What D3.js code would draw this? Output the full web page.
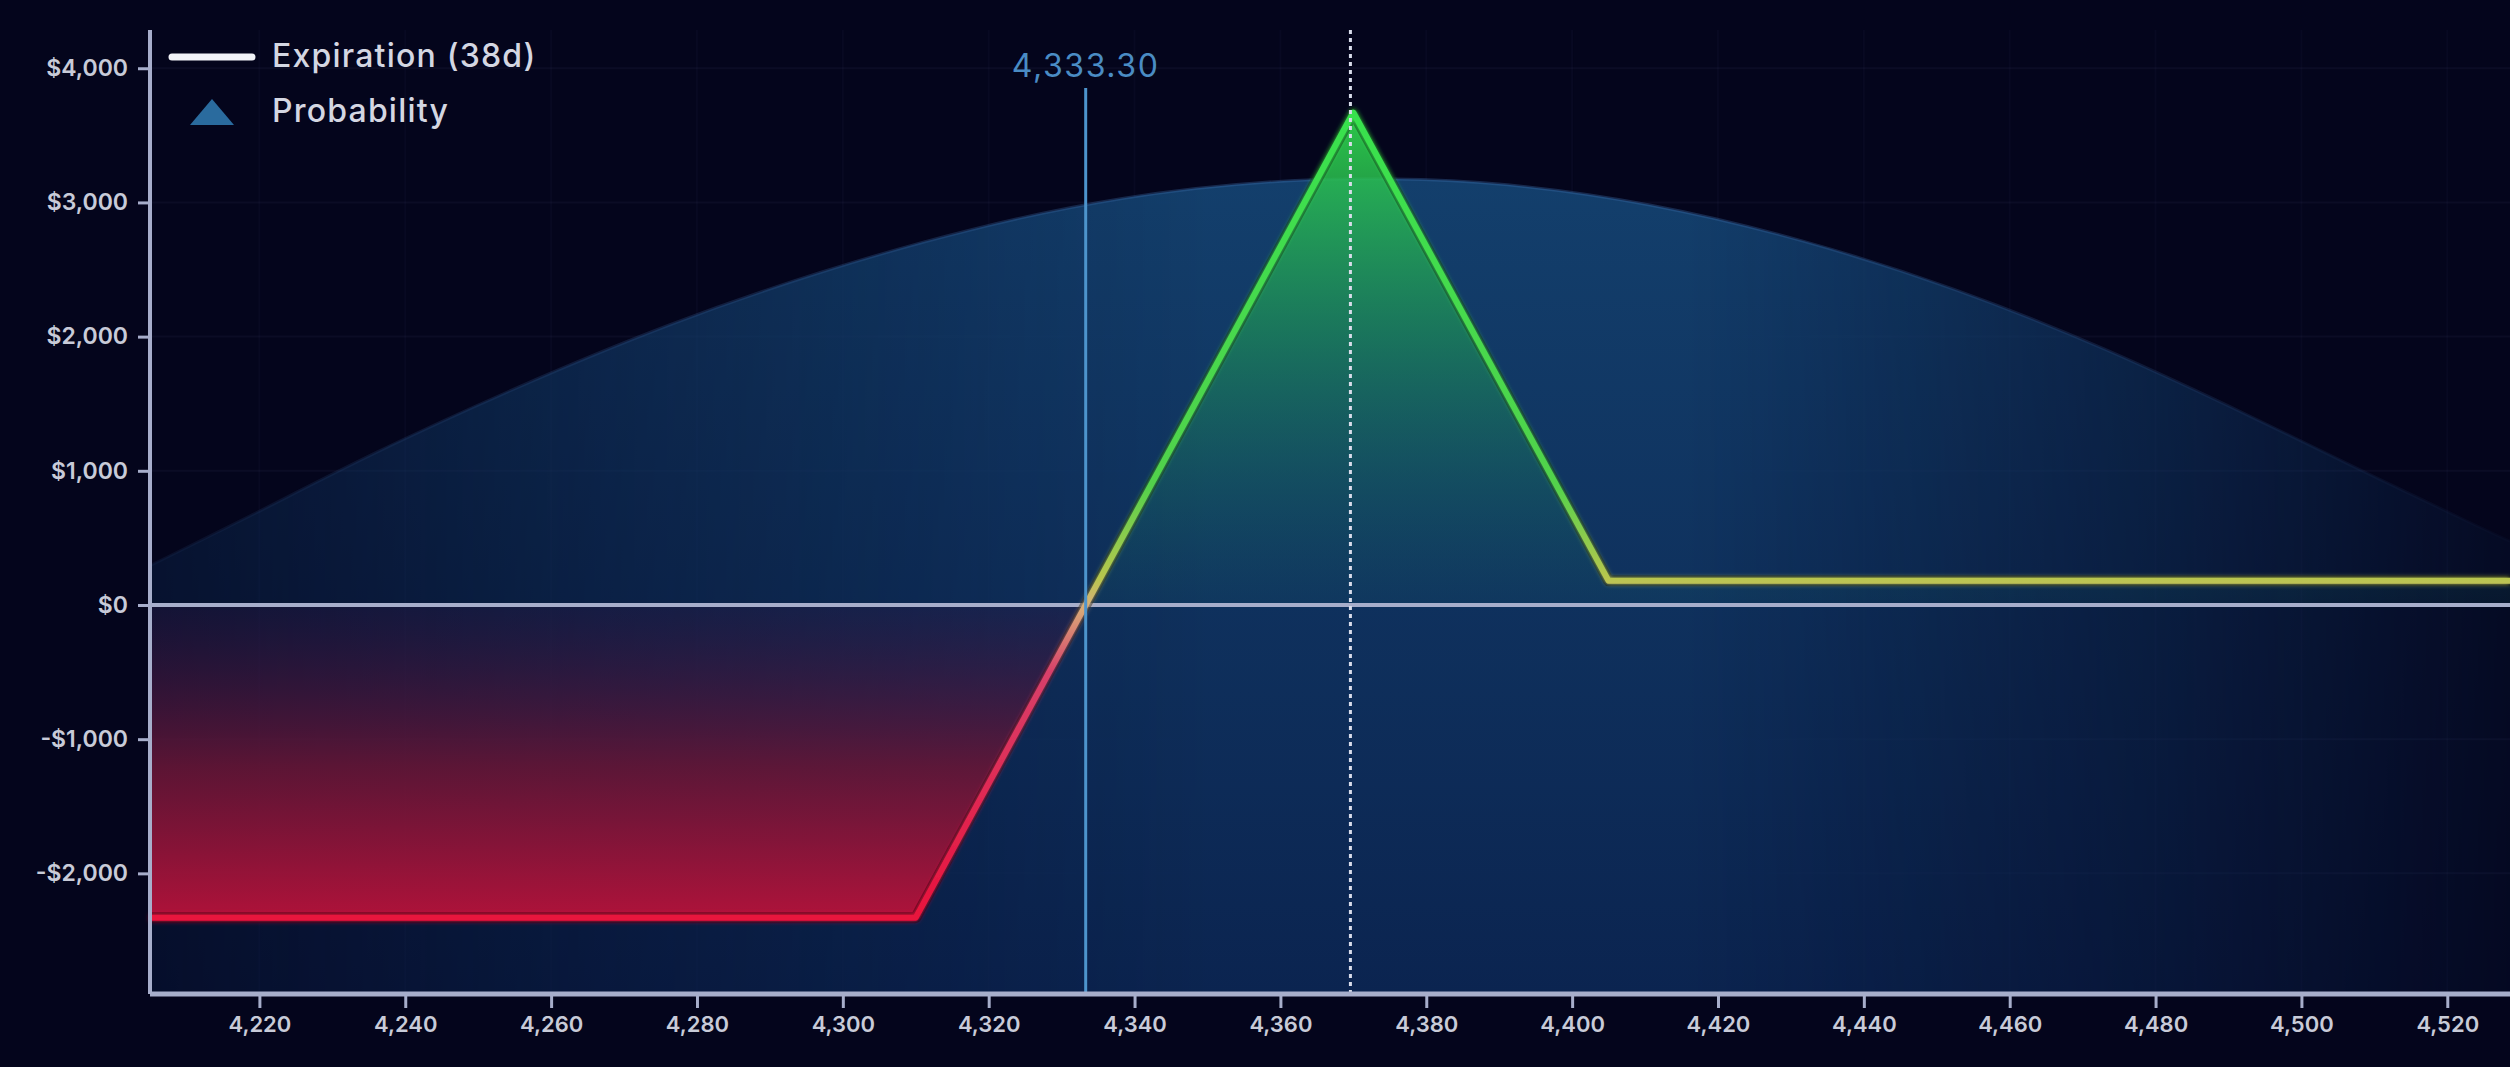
<!DOCTYPE html>
<html>
<head>
<meta charset="utf-8">
<script src="https://cdn.jsdelivr.net/npm/d3@7"></script>
<style>
  html, body { margin: 0; padding: 0; background: #04051c; overflow: hidden; }
  svg { display: block; }
  text { font-family: Inter, "Noto Sans", sans-serif; }
</style>
</head>
<body>
<svg id="chart" width="2510" height="1067"></svg>
<script>
// ---- data ----
const pnlPrice = [4205, 4310, 4370, 4405, 4528.6];
const pnlValue = [-2330, -2330, 3670, 180, 180];

const probPrice = [4205, 4220.2, 4234.8, 4255.5, 4276.2, 4296.9, 4317.6, 4338.3, 4359.1, 4375.7, 4390.1, 4410.8, 4431.7, 4452.4, 4473.1, 4493.8, 4510.4, 4524.9, 4528.6];
const probValue = [0.525, 0.592, 0.660, 0.745, 0.822, 0.886, 0.939, 0.978, 0.998, 1.0, 0.995, 0.970, 0.925, 0.866, 0.792, 0.705, 0.632, 0.570, 0.555];

const xTicks = [4220, 4240, 4260, 4280, 4300, 4320, 4340, 4360, 4380, 4400, 4420, 4440, 4460, 4480, 4500, 4520];
const yTicks = [-2000, -1000, 0, 1000, 2000, 3000, 4000];

const breakevenPrice = 4333.30;
const markerPrice = 4369.6;
const legendLabels = ["Expiration (38d)", "Probability"];

// ---- scales ----
const svg = d3.select("#chart");
const x = d3.scaleLinear().domain([4205, 4528.6]).range([150, 2510]);
const y = d3.scaleLinear().domain([-2899, 4285]).range([994, 30]);
const yProb = d3.scaleLinear().domain([0, 1]).range([994, 178]);

const defs = svg.append("defs");

// background
svg.append("rect").attr("width", 2510).attr("height", 1067).attr("fill", "#04051c");

// probability gradients
const pv = defs.append("linearGradient").attr("id", "probV")
  .attr("gradientUnits", "userSpaceOnUse").attr("x1", 0).attr("x2", 0).attr("y1", 178).attr("y2", 994);
pv.append("stop").attr("offset", "0%").attr("stop-color", "#133f6c");
pv.append("stop").attr("offset", "100%").attr("stop-color", "#0b2450");

const ph = defs.append("linearGradient").attr("id", "probH")
  .attr("gradientUnits", "userSpaceOnUse").attr("x1", 150).attr("x2", 2510).attr("y1", 0).attr("y2", 0);
[[0, 0.3], [0.2, 0.65], [0.45, 1], [0.65, 1], [0.85, 0.55], [1, 0.12]].forEach(([o, a]) =>
  ph.append("stop").attr("offset", o).attr("stop-color", "#fff").attr("stop-opacity", a));

const mask = defs.append("mask").attr("id", "probMask").attr("maskUnits", "userSpaceOnUse")
  .attr("x", 0).attr("y", 0).attr("width", 2510).attr("height", 1067);
mask.append("rect").attr("x", 0).attr("y", 0).attr("width", 2510).attr("height", 1067).attr("fill", "url(#probH)");

// grid
const grid = svg.append("g");
grid.selectAll("line.h").data(yTicks).join("line")
  .attr("x1", 150).attr("x2", 2510).attr("y1", d => y(d)).attr("y2", d => y(d))
  .attr("stroke", "rgba(150,160,220,0.05)").attr("stroke-width", 2);
grid.selectAll("line.v").data(xTicks).join("line")
  .attr("y1", 30).attr("y2", 994).attr("x1", d => x(d)).attr("x2", d => x(d))
  .attr("stroke", "rgba(150,160,220,0.03)").attr("stroke-width", 2);

// probability area
const probData = probPrice.map((p, i) => ({ p, v: probValue[i] }));
const probG = svg.append("g").attr("mask", "url(#probMask)");
probG.append("path").datum(probData)
  .attr("d", d3.area().x(d => x(d.p)).y0(994).y1(d => yProb(d.v)).curve(d3.curveBasis))
  .attr("fill", "url(#probV)");
probG.append("path").datum(probData)
  .attr("d", d3.line().x(d => x(d.p)).y(d => yProb(d.v)).curve(d3.curveBasis))
  .attr("fill", "none").attr("stroke", "rgba(60,110,170,0.35)").attr("stroke-width", 3);

// pnl fill gradient
const pnlData = pnlPrice.map((p, i) => ({ p, v: pnlValue[i] }));
const yTop = y(3670), yBot = y(-2330), yZero = y(0);
const off = v => (y(v) - yTop) / (yBot - yTop);
const fg = defs.append("linearGradient").attr("id", "pnlFill")
  .attr("gradientUnits", "userSpaceOnUse").attr("x1", 0).attr("x2", 0).attr("y1", yTop).attr("y2", yBot);
fg.append("stop").attr("offset", 0).attr("stop-color", "#2ed24c").attr("stop-opacity", 0.95);
fg.append("stop").attr("offset", off(2000)).attr("stop-color", "#1f9a55").attr("stop-opacity", 0.6);
fg.append("stop").attr("offset", off(0)).attr("stop-color", "#155a66").attr("stop-opacity", 0.15);
fg.append("stop").attr("offset", off(0)).attr("stop-color", "#2a1540").attr("stop-opacity", 0.35);
fg.append("stop").attr("offset", off(-1200)).attr("stop-color", "#6a1535").attr("stop-opacity", 0.85);
fg.append("stop").attr("offset", 1).attr("stop-color", "#b8123a").attr("stop-opacity", 0.95);

svg.append("path").datum(pnlData)
  .attr("d", d3.area().x(d => x(d.p)).y0(yZero).y1(d => y(d.v)))
  .attr("fill", "url(#pnlFill)");

// zero line
svg.append("line").attr("x1", 150).attr("x2", 2510).attr("y1", yZero).attr("y2", yZero)
  .attr("stroke", "#a7aecb").attr("stroke-width", 4);

// pnl line gradient
const lg = defs.append("linearGradient").attr("id", "pnlLine")
  .attr("gradientUnits", "userSpaceOnUse").attr("x1", 0).attr("x2", 0).attr("y1", yTop).attr("y2", yBot);
lg.append("stop").attr("offset", 0).attr("stop-color", "#38e24e");
lg.append("stop").attr("offset", off(900)).attr("stop-color", "#52d24c");
lg.append("stop").attr("offset", off(200)).attr("stop-color", "#b8c64e");
lg.append("stop").attr("offset", off(0)).attr("stop-color", "#d8b078");
lg.append("stop").attr("offset", off(-500)).attr("stop-color", "#d8406a");
lg.append("stop").attr("offset", 1).attr("stop-color", "#e8123c");

const glow = defs.append("filter").attr("id", "glow").attr("x", "-10%").attr("y", "-10%").attr("width", "120%").attr("height", "120%");
glow.append("feGaussianBlur").attr("stdDeviation", 2.5).attr("result", "b");
const fm = glow.append("feMerge");
fm.append("feMergeNode").attr("in", "b");
fm.append("feMergeNode").attr("in", "SourceGraphic");

svg.append("path").datum(pnlData)
  .attr("d", d3.line().x(d => x(d.p)).y(d => y(d.v)))
  .attr("fill", "none").attr("stroke", "rgba(0,0,0,0.45)").attr("stroke-width", 11)
  .attr("stroke-linejoin", "round");
svg.append("path").datum(pnlData)
  .attr("d", d3.line().x(d => x(d.p)).y(d => y(d.v)))
  .attr("fill", "none").attr("stroke", "url(#pnlLine)").attr("stroke-width", 6)
  .attr("stroke-linejoin", "round").attr("filter", "url(#glow)");

// breakeven line + label
svg.append("line").attr("x1", x(breakevenPrice)).attr("x2", x(breakevenPrice))
  .attr("y1", 88).attr("y2", 994).attr("stroke", "#4d94cc").attr("stroke-width", 3);
svg.append("text").attr("x", x(breakevenPrice)).attr("y", 77)
  .attr("text-anchor", "middle").attr("font-size", 32).attr("letter-spacing", 1.6).attr("fill", "#4a8cc4")
  .text(d3.format(",.2f")(breakevenPrice));

// dotted marker
svg.append("line").attr("x1", x(markerPrice)).attr("x2", x(markerPrice))
  .attr("y1", 30).attr("y2", 994).attr("stroke", "#d8dcea").attr("stroke-width", 3)
  .attr("stroke-dasharray", "4,4");

// axes
const fmtY = d => (d < 0 ? "-$" : "$") + d3.format(",")(Math.abs(d));
const yAxis = svg.append("g").attr("transform", "translate(150,0)")
  .call(d3.axisLeft(y).tickValues(yTicks).tickFormat(fmtY).tickSize(12).tickPadding(10));
yAxis.select(".domain").attr("d", "M0,30V994").attr("stroke", "#a7aecb").attr("stroke-width", 4);
yAxis.selectAll(".tick line").attr("stroke", "#a7aecb").attr("stroke-width", 3);
yAxis.selectAll(".tick text").attr("fill", "#c8cbd8").attr("font-size", 23).attr("font-weight", 600);

const xAxis = svg.append("g").attr("transform", "translate(0,994)")
  .call(d3.axisBottom(x).tickValues(xTicks).tickFormat(d3.format(",")).tickSize(14).tickPadding(8));
xAxis.select(".domain").attr("d", "M150,0H2510").attr("stroke", "#a7aecb").attr("stroke-width", 5);
xAxis.selectAll(".tick line").attr("stroke", "#a7aecb").attr("stroke-width", 3);
xAxis.selectAll(".tick text").attr("fill", "#c8cbd8").attr("font-size", 22).attr("font-weight", 600);

// legend
const lgd = svg.append("g");
lgd.append("line").attr("x1", 172).attr("x2", 252).attr("y1", 57).attr("y2", 57)
  .attr("stroke", "#f2f3f8").attr("stroke-width", 7).attr("stroke-linecap", "round");
lgd.append("text").attr("x", 272).attr("y", 67).attr("font-size", 32).attr("font-weight", 500)
  .attr("letter-spacing", 1.2).attr("fill", "#d4d7e2").text(legendLabels[0]);
lgd.append("path").attr("d", "M190,125 L212,99 L234,125 Z").attr("fill", "#2a6b9e");
lgd.append("text").attr("x", 272).attr("y", 122).attr("font-size", 32).attr("font-weight", 500)
  .attr("letter-spacing", 1.2).attr("fill", "#d4d7e2").text(legendLabels[1]);
</script>
</body>
</html>
